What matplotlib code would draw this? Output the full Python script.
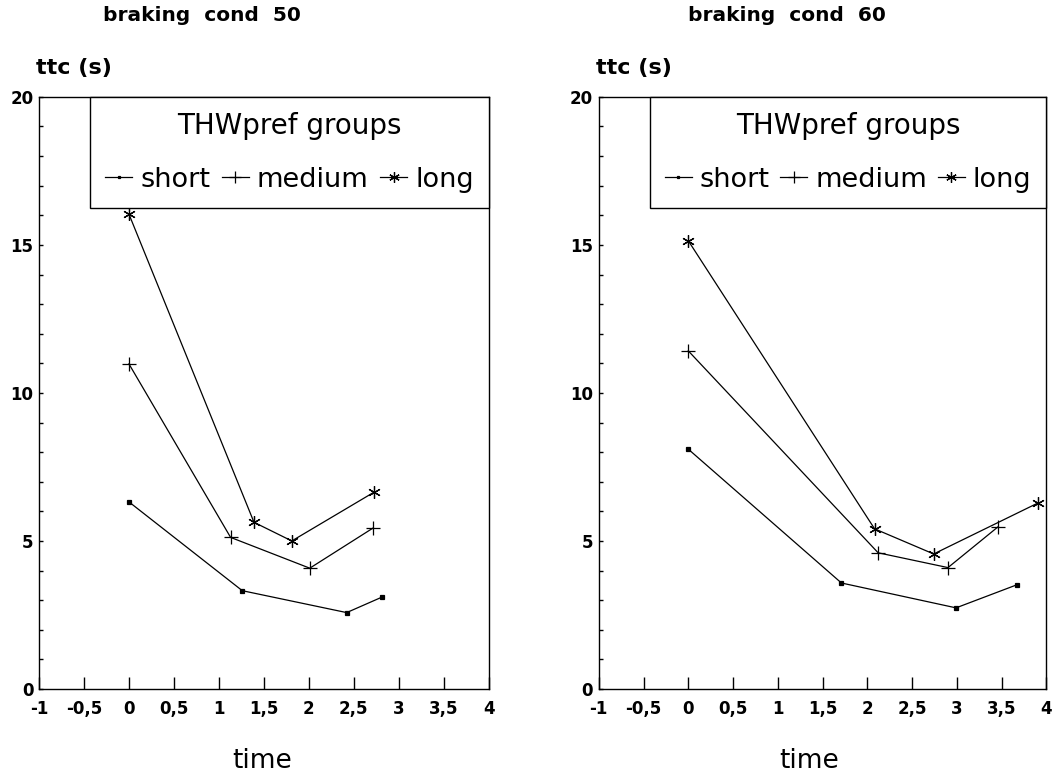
import matplotlib
matplotlib.use("Agg")
import matplotlib.pyplot as plt
import numpy as np

plt.rcParams['font.family'] = ['DejaVu Sans']

# braking cond 50
short50_x = [0, 1.26, 2.42, 2.81]
short50_y = [6.32, 3.32, 2.58, 3.10]
medium50_x = [0, 1.13, 2.01, 2.71]
medium50_y = [10.98, 5.12, 4.08, 5.43]
long50_x = [0, 1.39, 1.81, 2.72]
long50_y = [16.04, 5.63, 5.00, 6.64]

# braking cond 60
short60_x = [0, 1.71, 2.99, 3.67]
short60_y = [8.10, 3.58, 2.74, 3.52]
medium60_x = [0, 2.12, 2.90, 3.46]
medium60_y = [11.42, 4.60, 4.10, 5.48]
long60_x = [0, 2.08, 2.74, 3.91]
long60_y = [15.14, 5.41, 4.56, 6.29]

group_names = ['short', 'medium', 'long']
x_ticks = [-1, -0.5, 0, 0.5, 1, 1.5, 2, 2.5, 3, 3.5, 4]
x_ticklabels = ['-1', '-0,5', '0', '0,5', '1', '1,5', '2', '2,5', '3', '3,5', '4']
y_ticks = [0, 5, 10, 15, 20]

markers = ['s', '+', (6, 2, 0)]
msizes = [2.5, 10, 9]

fig = plt.figure(figsize=(10.56, 7.75), dpi=100)

panels = [
    ([0.0369, 0.111, 0.426, 0.764], 'braking  cond  50', 0.191, 0.034, 0.248,
     [(short50_x, short50_y), (medium50_x, medium50_y), (long50_x, long50_y)]),
    ([0.567, 0.111, 0.424, 0.764], 'braking  cond  60', 0.745, 0.564, 0.766,
     [(short60_x, short60_y), (medium60_x, medium60_y), (long60_x, long60_y)]),
]

for rect, title, tx, lx, timex, series in panels:
    ax = fig.add_axes(rect)
    for (xs, ys), name, mk, ms in zip(series, group_names, markers, msizes):
        ax.plot(xs, ys, color='black', lw=0.9, marker=mk, markersize=ms,
                markeredgewidth=0.9, label=name)
    ax.set_xlim(-1, 4)
    ax.set_ylim(0, 20)
    ax.set_xticks(x_ticks)
    ax.set_xticklabels(x_ticklabels, fontsize=12, fontweight='bold')
    ax.set_yticks(y_ticks)
    ax.set_yticks(np.arange(0, 21, 1), minor=True)
    ax.set_yticklabels([str(v) for v in y_ticks], fontsize=12, fontweight='bold')
    ax.tick_params(axis='x', direction='in', length=9, width=1, pad=8)
    ax.tick_params(axis='y', which='both', direction='in', length=3, width=1, pad=4)
    for sp in ax.spines.values():
        sp.set_linewidth(1)
    leg = ax.legend(title='THWpref groups', ncol=3, mode='expand',
                    bbox_to_anchor=(0.114, 0, 0.886, 1), loc='upper left',
                    borderaxespad=0, fontsize=19.5, title_fontsize=20,
                    handlelength=1.0, handletextpad=0.3, columnspacing=0.7,
                    fancybox=False, edgecolor='black', framealpha=1,
                    borderpad=0.55, labelspacing=1.0, markerscale=0.85)
    leg.get_frame().set_linewidth(1)
    fig.text(tx, 0.98, title, fontsize=14.5, fontweight='bold', ha='center', va='center')
    fig.text(lx, 0.912, 'ttc (s)', fontsize=16, fontweight='bold', ha='left', va='center')
    fig.text(timex, 0.018, 'time', fontsize=19, ha='center', va='center')

fig.savefig('out.png', dpi=100)
